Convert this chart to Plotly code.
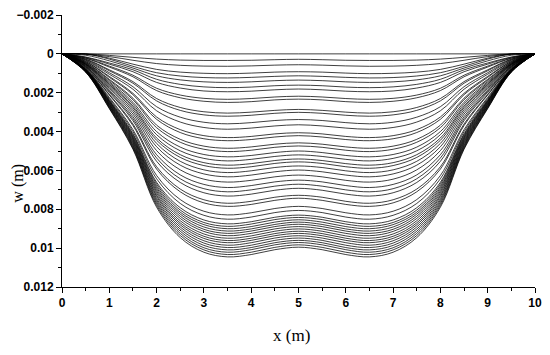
import plotly.graph_objects as go

# x stations along the span (m)
x_stations = [0, 0.5, 1, 1.5, 2, 2.5, 3, 3.5, 4, 4.5, 5,
              5.5, 6, 6.5, 7, 7.5, 8, 8.5, 9, 9.5, 10]

# deflection, in mm, for x = 0 ... 5 (curves are symmetric about x = 5)
w_half_mm = [
    [0, 0, 0, 0, 0, 0, 0, 0, 0, 0, 0],
    [0, 0, 0.08, 0.18, 0.27, 0.32, 0.34, 0.34, 0.33, 0.30, 0.28],
    [0, 0.01, 0.14, 0.33, 0.50, 0.59, 0.63, 0.64, 0.62, 0.58, 0.56],
    [0, 0.01, 0.22, 0.53, 0.80, 0.94, 1.00, 1.02, 0.99, 0.94, 0.92],
    [0, 0.01, 0.27, 0.64, 0.97, 1.14, 1.22, 1.24, 1.21, 1.16, 1.13],
    [0, 0.07, 0.36, 0.73, 1.13, 1.34, 1.44, 1.47, 1.44, 1.38, 1.35],
    [0, 0.16, 0.47, 0.82, 1.31, 1.57, 1.70, 1.74, 1.71, 1.64, 1.61],
    [0, 0.18, 0.53, 0.92, 1.47, 1.76, 1.91, 1.95, 1.92, 1.85, 1.81],
    [0, 0.21, 0.63, 1.10, 1.77, 2.12, 2.29, 2.34, 2.30, 2.22, 2.18],
    [0, 0.23, 0.68, 1.18, 1.89, 2.26, 2.44, 2.50, 2.46, 2.37, 2.33],
    [0, 0.27, 0.82, 1.43, 2.30, 2.76, 2.98, 3.05, 3.00, 2.91, 2.86],
    [0, 0.29, 0.87, 1.51, 2.42, 2.91, 3.14, 3.21, 3.16, 3.06, 3.01],
    [0, 0.32, 0.97, 1.69, 2.72, 3.26, 3.52, 3.60, 3.54, 3.43, 3.38],
    [0, 0.35, 1.05, 1.82, 2.93, 3.51, 3.79, 3.88, 3.82, 3.71, 3.65],
    [0, 0.39, 1.16, 2.03, 3.25, 3.90, 4.21, 4.31, 4.25, 4.12, 4.06],
    [0, 0.40, 1.21, 2.10, 3.37, 4.05, 4.37, 4.47, 4.41, 4.28, 4.21],
    [0, 0.44, 1.31, 2.28, 3.67, 4.40, 4.75, 4.86, 4.79, 4.65, 4.58],
    [0, 0.45, 1.36, 2.36, 3.80, 4.55, 4.91, 5.03, 4.96, 4.81, 4.74],
    [0, 0.48, 1.43, 2.49, 4.00, 4.80, 5.18, 5.30, 5.23, 5.08, 5.00],
    [0, 0.50, 1.49, 2.59, 4.16, 4.99, 5.38, 5.51, 5.43, 5.28, 5.20],
    [0, 0.52, 1.55, 2.69, 4.33, 5.19, 5.60, 5.73, 5.65, 5.49, 5.41],
    [0, 0.53, 1.59, 2.77, 4.45, 5.33, 5.75, 5.89, 5.81, 5.64, 5.56],
    [0, 0.55, 1.65, 2.87, 4.61, 5.53, 5.97, 6.11, 6.02, 5.85, 5.77],
    [0, 0.57, 1.71, 2.98, 4.78, 5.73, 6.18, 6.33, 6.24, 6.07, 5.98],
    [0, 0.59, 1.78, 3.10, 4.98, 5.97, 6.45, 6.60, 6.51, 6.33, 6.24],
    [0, 0.62, 1.86, 3.23, 5.19, 6.23, 6.72, 6.88, 6.78, 6.59, 6.50],
    [0, 0.64, 1.92, 3.34, 5.36, 6.43, 6.94, 7.10, 7.00, 6.81, 6.71],
    [0, 0.66, 1.98, 3.44, 5.53, 6.62, 7.15, 7.32, 7.22, 7.02, 6.92],
    [0, 0.69, 2.08, 3.61, 5.81, 6.96, 7.51, 7.69, 7.59, 7.38, 7.28],
    [0, 0.71, 2.12, 3.69, 5.93, 7.10, 7.67, 7.85, 7.75, 7.54, 7.43],
    [0, 0.75, 2.24, 3.90, 6.26, 7.50, 8.10, 8.29, 8.18, 7.96, 7.85],
    [0, 0.77, 2.30, 4.00, 6.43, 7.70, 8.31, 8.51, 8.40, 8.17, 8.06],
    # dense band
    [0, 0.79, 2.36, 4.11, 6.61, 7.92, 8.55, 8.75, 8.64, 8.41, 8.30],
    [0, 0.80, 2.40, 4.17, 6.70, 8.04, 8.68, 8.88, 8.76, 8.53, 8.42],
    [0, 0.81, 2.43, 4.23, 6.80, 8.15, 8.79, 9.00, 8.89, 8.66, 8.54],
    [0, 0.82, 2.46, 4.29, 6.89, 8.25, 8.91, 9.12, 9.01, 8.78, 8.66],
    [0, 0.83, 2.49, 4.34, 6.98, 8.36, 9.03, 9.24, 9.12, 8.89, 8.77],
    [0, 0.84, 2.53, 4.40, 7.07, 8.47, 9.14, 9.36, 9.24, 9.01, 8.89],
    [0, 0.85, 2.56, 4.46, 7.16, 8.59, 9.27, 9.49, 9.37, 9.13, 9.01],
    [0, 0.86, 2.59, 4.52, 7.26, 8.70, 9.39, 9.61, 9.49, 9.25, 9.13],
    [0, 0.87, 2.62, 4.57, 7.34, 8.80, 9.50, 9.72, 9.60, 9.36, 9.24],
    [0, 0.89, 2.66, 4.63, 7.44, 8.91, 9.62, 9.85, 9.72, 9.48, 9.36],
    [0, 0.90, 2.69, 4.69, 7.53, 9.02, 9.74, 9.97, 9.85, 9.60, 9.48],
    [0, 0.91, 2.72, 4.74, 7.62, 9.13, 9.86, 10.09, 9.97, 9.72, 9.60],
    [0, 0.92, 2.76, 4.80, 7.71, 9.24, 9.98, 10.21, 10.08, 9.83, 9.71],
    [0, 0.93, 2.79, 4.86, 7.80, 9.35, 10.09, 10.33, 10.21, 9.96, 9.83],
    [0, 0.94, 2.82, 4.91, 7.89, 9.46, 10.21, 10.45, 10.33, 10.08, 9.95],
]

y_tickvals = [-0.002, 0, 0.002, 0.004, 0.006, 0.008, 0.01, 0.012]
y_ticktext = ['\u22120.002', '0', '0.002', '0.004', '0.006', '0.008', '0.01', '0.012']
x_tickvals = [0, 1, 2, 3, 4, 5, 6, 7, 8, 9, 10]

fig = go.Figure()
for row in w_half_mm:
    full = row + row[-2::-1]
    fig.add_trace(go.Scatter(
        x=x_stations, y=[v / 1000 for v in full],
        mode='lines', line=dict(color='black', width=0.75, shape='spline'),
        showlegend=False, hoverinfo='skip'))

tick_font = dict(family='Liberation Sans, Arial', size=12, color='black', weight='bold')

fig.update_xaxes(
    range=[0, 10], tickvals=x_tickvals, ticks='outside', ticklen=5, tickwidth=1,
    tickcolor='black', showline=True, linecolor='black', linewidth=1,
    showgrid=False, zeroline=False, tickfont=tick_font, automargin=False,
    ticklabeloverflow='allow',
    minor=dict(dtick=0.5, ticks='outside', ticklen=3, tickcolor='black', showgrid=False))
fig.update_yaxes(
    range=[0.012, -0.002], tickvals=y_tickvals, ticktext=y_ticktext,
    ticks='outside', ticklen=5, tickwidth=1, tickcolor='black',
    showline=True, linecolor='black', linewidth=1,
    showgrid=False, zeroline=False, tickfont=tick_font, automargin=False,
    ticklabeloverflow='allow',
    minor=dict(tickvals=[-0.001, 0.001, 0.003, 0.005, 0.007, 0.009, 0.011],
               ticks='outside', ticklen=3, tickcolor='black', showgrid=False))

# the page adds an 8 px body margin, so the figure is a little smaller than the window
fig.update_layout(
    width=542, height=347,
    margin=dict(l=54, r=15, t=7, b=68),
    plot_bgcolor='white', paper_bgcolor='white',
    annotations=[
        dict(text='x (m)', xref='paper', yref='paper', x=0.486, y=-0.18,
             xanchor='center', yanchor='middle', showarrow=False,
             font=dict(family='Liberation Serif, Times New Roman', size=17, color='black')),
        dict(text='w (m)', xref='paper', yref='paper', x=-0.093, y=0.38,
             xanchor='center', yanchor='middle', showarrow=False, textangle=-90,
             font=dict(family='Liberation Serif, Times New Roman', size=16, color='black')),
    ],
)

fig.write_html("out.html")
